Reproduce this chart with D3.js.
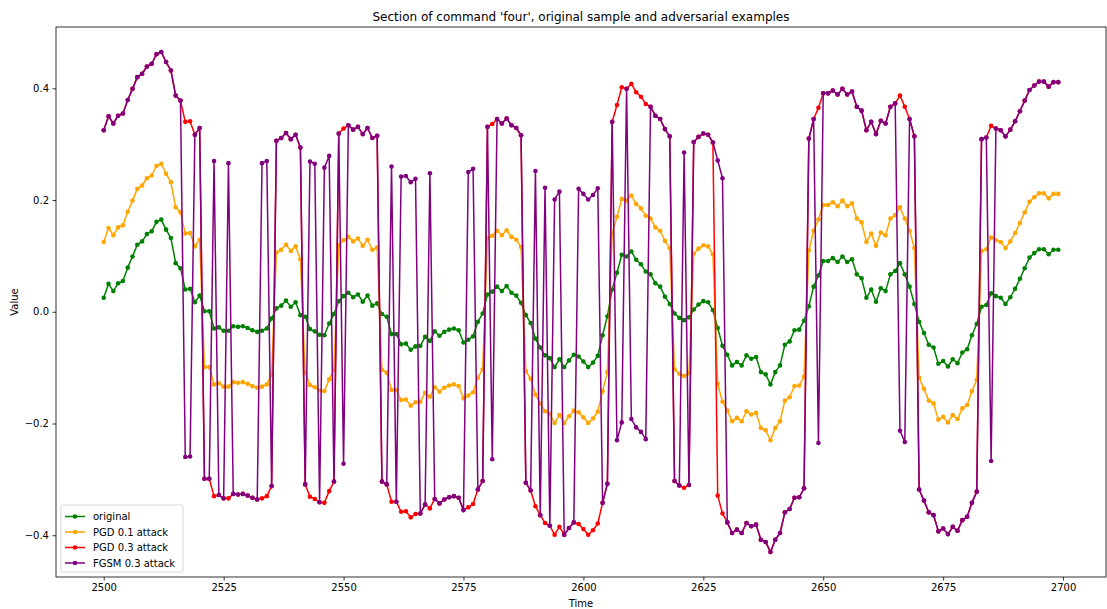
<!DOCTYPE html>
<html>
<head>
<meta charset="utf-8">
<script src="https://cdn.jsdelivr.net/npm/d3@7"></script>
<style>
  body { margin: 0; background: #fff; }
  svg text { font-family: "DejaVu Sans", sans-serif; fill: #000; }
</style>
</head>
<body>
<svg id="chart" width="1107" height="609"></svg>
<script>
// Section of the command "four": original waveform and three adversarial versions.
const startTime = 2500;

const original = [
  0.025, 0.050, 0.037, 0.051, 0.055, 0.079, 0.099, 0.120, 0.126, 0.139,
  0.144, 0.161, 0.165, 0.147, 0.132, 0.087, 0.078, 0.040, 0.041, 0.017,
  0.029, 0.001, 0.001, -0.030, -0.028, -0.034, -0.034, -0.026, -0.027, -0.026,
  -0.029, -0.033, -0.036, -0.034, -0.030, -0.012, 0.006, 0.011, 0.020, 0.009,
  0.017, -0.006, -0.009, -0.031, -0.035, -0.041, -0.042, -0.021, -0.004, 0.019,
  0.028, 0.034, 0.026, 0.031, 0.018, 0.029, 0.011, 0.015, -0.004, -0.009,
  -0.040, -0.040, -0.058, -0.057, -0.068, -0.062, -0.061, -0.045, -0.052, -0.035,
  -0.043, -0.036, -0.032, -0.030, -0.033, -0.055, -0.050, -0.044, -0.018, -0.003,
  0.031, 0.036, 0.045, 0.037, 0.046, 0.034, 0.029, 0.016, -0.006, -0.020,
  -0.048, -0.064, -0.078, -0.083, -0.099, -0.085, -0.099, -0.087, -0.077, -0.080,
  -0.089, -0.099, -0.091, -0.079, -0.042, -0.008, 0.040, 0.070, 0.102, 0.099,
  0.108, 0.093, 0.085, 0.072, 0.067, 0.051, 0.045, 0.027, 0.014, -0.003,
  -0.011, -0.015, -0.010, 0.004, 0.013, 0.019, 0.017, 0.003, -0.029, -0.061,
  -0.077, -0.096, -0.090, -0.096, -0.078, -0.084, -0.081, -0.108, -0.112, -0.130,
  -0.108, -0.096, -0.059, -0.053, -0.033, -0.032, -0.016, 0.010, 0.045, 0.065,
  0.091, 0.091, 0.096, 0.089, 0.099, 0.089, 0.094, 0.067, 0.060, 0.025,
  0.040, 0.018, 0.042, 0.037, 0.067, 0.073, 0.087, 0.067, 0.045, 0.014,
  -0.018, -0.038, -0.059, -0.064, -0.093, -0.088, -0.098, -0.085, -0.092, -0.073,
  -0.067, -0.042, -0.022, 0.009, 0.012, 0.033, 0.028, 0.025, 0.014, 0.026,
  0.041, 0.059, 0.078, 0.097, 0.105, 0.112, 0.112, 0.103, 0.111, 0.111
];

const pgd01 = [
  0.125, 0.150, 0.137, 0.151, 0.155, 0.179, 0.199, 0.220, 0.226, 0.239,
  0.244, 0.261, 0.265, 0.247, 0.232, 0.187, 0.178, 0.140, 0.141, 0.117,
  0.129, -0.099, -0.099, -0.130, -0.128, -0.134, -0.134, -0.126, -0.127, -0.126,
  -0.129, -0.133, -0.136, -0.134, -0.130, -0.112, 0.106, 0.111, 0.120, 0.109,
  0.117, 0.094, -0.109, -0.131, -0.135, -0.141, -0.142, -0.121, -0.104, 0.119,
  0.128, 0.134, 0.126, 0.131, 0.118, 0.129, 0.111, 0.115, -0.104, -0.109,
  -0.140, -0.140, -0.158, -0.157, -0.168, -0.162, -0.161, -0.145, -0.152, -0.135,
  -0.143, -0.136, -0.132, -0.130, -0.133, -0.155, -0.150, -0.144, -0.118, -0.103,
  0.131, 0.136, 0.145, 0.137, 0.146, 0.134, 0.129, 0.116, -0.106, -0.120,
  -0.148, -0.164, -0.178, -0.183, -0.199, -0.185, -0.199, -0.187, -0.177, -0.180,
  -0.189, -0.199, -0.191, -0.179, -0.142, -0.108, 0.140, 0.170, 0.202, 0.199,
  0.208, 0.193, 0.185, 0.172, 0.167, 0.151, 0.145, 0.127, 0.114, -0.103,
  -0.111, -0.115, -0.110, 0.104, 0.113, 0.119, 0.117, 0.103, -0.129, -0.161,
  -0.177, -0.196, -0.190, -0.196, -0.178, -0.184, -0.181, -0.208, -0.212, -0.230,
  -0.208, -0.196, -0.159, -0.153, -0.133, -0.132, -0.116, 0.110, 0.145, 0.165,
  0.191, 0.191, 0.196, 0.189, 0.199, 0.189, 0.194, 0.167, 0.160, 0.125,
  0.140, 0.118, 0.142, 0.137, 0.167, 0.173, 0.187, 0.167, 0.145, 0.114,
  -0.118, -0.138, -0.159, -0.164, -0.193, -0.188, -0.198, -0.185, -0.192, -0.173,
  -0.167, -0.142, -0.122, 0.109, 0.112, 0.133, 0.128, 0.125, 0.114, 0.126,
  0.141, 0.159, 0.178, 0.197, 0.205, 0.212, 0.212, 0.203, 0.211, 0.211
];

const pgd03 = [
  0.325, 0.350, 0.337, 0.351, 0.355, 0.379, 0.399, 0.420, 0.426, 0.439,
  0.444, 0.461, 0.465, 0.447, 0.432, 0.387, 0.378, 0.340, 0.341, 0.317,
  0.329, -0.299, -0.299, -0.330, -0.328, -0.334, -0.334, -0.326, -0.327, -0.326,
  -0.329, -0.333, -0.336, -0.334, -0.330, -0.312, 0.306, 0.311, 0.320, 0.309,
  0.317, 0.294, -0.309, -0.331, -0.335, -0.341, -0.342, -0.321, -0.304, 0.319,
  0.328, 0.334, 0.326, 0.331, 0.318, 0.329, 0.311, 0.315, -0.304, -0.309,
  -0.340, -0.340, -0.358, -0.357, -0.368, -0.362, -0.361, -0.345, -0.352, -0.335,
  -0.343, -0.336, -0.332, -0.330, -0.333, -0.355, -0.350, -0.344, -0.318, -0.303,
  0.331, 0.336, 0.345, 0.337, 0.346, 0.334, 0.329, 0.316, -0.306, -0.320,
  -0.348, -0.364, -0.378, -0.383, -0.399, -0.385, -0.399, -0.387, -0.377, -0.380,
  -0.389, -0.399, -0.391, -0.379, -0.342, -0.308, 0.340, 0.370, 0.402, 0.399,
  0.408, 0.393, 0.385, 0.372, 0.367, 0.351, 0.345, 0.327, 0.314, -0.303,
  -0.311, -0.315, -0.310, 0.304, 0.313, 0.319, 0.317, 0.303, -0.329, -0.361,
  -0.377, -0.396, -0.390, -0.396, -0.378, -0.384, -0.381, -0.408, -0.412, -0.430,
  -0.408, -0.396, -0.359, -0.353, -0.333, -0.332, -0.316, 0.310, 0.345, 0.365,
  0.391, 0.391, 0.396, 0.389, 0.399, 0.389, 0.394, 0.367, 0.360, 0.325,
  0.340, 0.318, 0.342, 0.337, 0.367, 0.373, 0.387, 0.367, 0.345, 0.314,
  -0.318, -0.338, -0.359, -0.364, -0.393, -0.388, -0.398, -0.385, -0.392, -0.373,
  -0.367, -0.342, -0.322, 0.309, 0.312, 0.333, 0.328, 0.325, 0.314, 0.326,
  0.341, 0.359, 0.378, 0.397, 0.405, 0.412, 0.412, 0.403, 0.411, 0.411
];

const fgsm03 = [
  0.325, 0.350, 0.337, 0.351, 0.355, 0.379, 0.399, 0.420, 0.426, 0.439,
  0.444, 0.461, 0.465, 0.447, 0.432, 0.387, 0.378, -0.260, -0.259, 0.317,
  0.329, -0.299, -0.299, 0.270, -0.328, -0.334, 0.266, -0.326, -0.327, -0.326,
  -0.329, -0.333, -0.336, 0.266, 0.270, -0.312, 0.306, 0.311, 0.320, 0.309,
  0.317, 0.294, -0.309, 0.269, 0.265, -0.341, 0.258, 0.279, -0.304, 0.319,
  -0.272, 0.334, 0.326, 0.331, 0.318, 0.329, 0.311, 0.315, -0.304, -0.309,
  0.260, -0.340, 0.242, 0.243, 0.232, 0.238, -0.361, -0.345, 0.248, -0.335,
  -0.343, -0.336, -0.332, -0.330, -0.333, -0.355, 0.250, 0.256, -0.318, -0.303,
  0.331, -0.264, 0.345, 0.337, 0.346, 0.334, 0.329, 0.316, -0.306, -0.320,
  0.252, -0.364, 0.222, -0.383, 0.201, 0.215, -0.399, -0.387, -0.377, 0.220,
  0.211, 0.201, 0.209, 0.221, -0.342, -0.308, 0.340, -0.230, -0.198, 0.399,
  -0.192, -0.207, -0.215, -0.228, 0.367, 0.351, 0.345, 0.327, 0.314, -0.303,
  -0.311, 0.285, -0.310, 0.304, 0.313, 0.319, 0.317, 0.303, 0.271, 0.239,
  -0.377, -0.396, -0.390, -0.396, -0.378, -0.384, -0.381, -0.408, -0.412, -0.430,
  -0.408, -0.396, -0.359, -0.353, -0.333, -0.332, -0.316, 0.310, 0.345, -0.235,
  0.391, 0.391, 0.396, 0.389, 0.399, 0.389, 0.394, 0.367, 0.360, 0.325,
  0.340, 0.318, 0.342, 0.337, 0.367, 0.373, -0.213, -0.233, 0.345, 0.314,
  -0.318, -0.338, -0.359, -0.364, -0.393, -0.388, -0.398, -0.385, -0.392, -0.373,
  -0.367, -0.342, -0.322, 0.309, 0.312, -0.267, 0.328, 0.325, 0.314, 0.326,
  0.341, 0.359, 0.378, 0.397, 0.405, 0.412, 0.412, 0.403, 0.411, 0.411
];

const seriesNames = ["original", "PGD 0.1 attack", "PGD 0.3 attack", "FGSM 0.3 attack"];
const seriesColors = ["green", "orange", "red", "purple"];
const xTicks = [2500, 2525, 2550, 2575, 2600, 2625, 2650, 2675, 2700];
const yTicks = [-0.4, -0.2, 0.0, 0.2, 0.4];

const time = original.map((_, i) => startTime + i);
const seriesValues = [original, pgd01, pgd03, fgsm03];
const series = seriesNames.map((name, k) => ({
  name,
  color: seriesColors[k],
  points: seriesValues[k].map((v, i) => [time[i], v])
}));

// Plot frame
const plot = { left: 56, right: 1106, top: 27, bottom: 577 };
const svg = d3.select("#chart");

// Domains padded by 5% of the data span on each side
const xMin = d3.min(time), xMax = d3.max(time);
const xPad = (xMax - xMin) * 0.05;
const allVals = seriesValues.flat();
const yMin = d3.min(allVals), yMax = d3.max(allVals);
const yPad = (yMax - yMin) * 0.05;

const x = d3.scaleLinear().domain([xMin - xPad, xMax + xPad]).range([plot.left, plot.right]);
const y = d3.scaleLinear().domain([yMin - yPad, yMax + yPad]).range([plot.bottom, plot.top]);

const fmtY = v => d3.format(".1f")(v).replace("-", "\u2212");

// Axes
const xAxis = d3.axisBottom(x).tickValues(xTicks).tickFormat(d3.format("d")).tickSize(3.5).tickPadding(3.5);
const yAxis = d3.axisLeft(y).tickValues(yTicks).tickFormat(fmtY).tickSize(3.5).tickPadding(3.5);

const gx = svg.append("g").attr("transform", `translate(0,${plot.bottom})`).call(xAxis);
const gy = svg.append("g").attr("transform", `translate(${plot.left},0)`).call(yAxis);
[gx, gy].forEach(g => {
  g.select(".domain").remove();
  g.selectAll(".tick line").attr("stroke", "#000").attr("stroke-width", 0.8);
  g.selectAll(".tick text").attr("font-size", 10).attr("font-family", "DejaVu Sans, sans-serif").attr("fill", "#000");
});

// Series lines and point markers
const clip = svg.append("clipPath").attr("id", "plotclip")
  .append("rect").attr("x", plot.left).attr("y", plot.top)
  .attr("width", plot.right - plot.left).attr("height", plot.bottom - plot.top);

const line = d3.line().x(d => x(d[0])).y(d => y(d[1]));
const layer = svg.append("g").attr("clip-path", "url(#plotclip)");

series.forEach(s => {
  const g = layer.append("g");
  g.append("path")
    .attr("d", line(s.points))
    .attr("fill", "none")
    .attr("stroke", s.color)
    .attr("stroke-width", 1.5)
    .attr("stroke-linejoin", "round")
    .attr("stroke-linecap", "square");
  g.selectAll("circle").data(s.points).join("circle")
    .attr("cx", d => x(d[0]))
    .attr("cy", d => y(d[1]))
    .attr("r", 2.3)
    .attr("fill", s.color);
});

// Frame
svg.append("rect")
  .attr("x", plot.left).attr("y", plot.top)
  .attr("width", plot.right - plot.left).attr("height", plot.bottom - plot.top)
  .attr("fill", "none").attr("stroke", "#000").attr("stroke-width", 0.8);

// Title and axis labels
svg.append("text")
  .attr("x", (plot.left + plot.right) / 2).attr("y", 21)
  .attr("text-anchor", "middle").attr("font-size", 12)
  .text("Section of command 'four', original sample and adversarial examples");

svg.append("text")
  .attr("x", (plot.left + plot.right) / 2).attr("y", 607)
  .attr("text-anchor", "middle").attr("font-size", 10)
  .text("Time");

svg.append("text")
  .attr("transform", `translate(18,${(plot.top + plot.bottom) / 2}) rotate(-90)`)
  .attr("text-anchor", "middle").attr("font-size", 10)
  .text("Value");

// Legend (lower left)
const lg = svg.append("g").attr("transform", `translate(${plot.left + 5},${plot.bottom - 72})`);
lg.append("rect")
  .attr("x", 0).attr("y", 0).attr("width", 122).attr("height", 67)
  .attr("rx", 2).attr("ry", 2)
  .attr("fill", "#fff").attr("fill-opacity", 0.8)
  .attr("stroke", "#cccccc").attr("stroke-width", 0.8);

series.forEach((s, k) => {
  const cy = 11.5 + k * 15.5;
  lg.append("line").attr("x1", 4).attr("x2", 24).attr("y1", cy).attr("y2", cy)
    .attr("stroke", s.color).attr("stroke-width", 1.5);
  lg.append("circle").attr("cx", 14).attr("cy", cy).attr("r", 2.3).attr("fill", s.color);
  lg.append("text").attr("x", 32).attr("y", cy + 3.5).attr("font-size", 10).text(s.name);
});
</script>
</body>
</html>
